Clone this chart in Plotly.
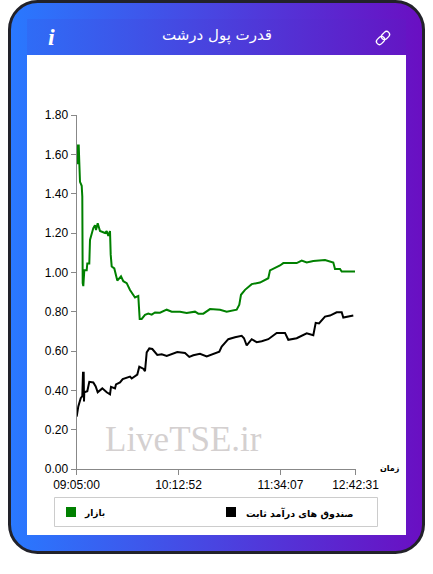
import base64
import plotly.graph_objects as go

W, H = 433, 574

title = "قدرت پول درشت"
x_ticks = [0, 102, 204, 279]
x_labels = ["09:05:00", "10:12:52", "11:34:07", "12:42:31"]
y_ticks = [0, 0.2, 0.4, 0.6, 0.8, 1.0, 1.2, 1.4, 1.6, 1.8]

market_name = "بازار"
market_x = [0.2, 0.8, 1.5, 2.2, 2.8, 3.5, 5.2, 5.8, 6.2, 6.8, 7.8, 10.2, 10.8, 12.8, 13.5, 15.2, 16.8, 18.5,
            19.5, 21.2, 23.5, 28.5, 30.2, 31.8, 33.5, 34.2, 35.2, 37.8, 40.8, 44.5, 46.8, 50.2, 53.5, 58.5,
            61.8, 62.5, 63.2, 65.2, 68.5, 71.8, 75.2, 78.5, 83.5, 90.2, 95.2, 103.5, 110.2, 118.5, 121.8,
            126.8, 133.5, 143.5, 150.2, 160.2, 162.8, 164.5, 168.5, 175.2, 183.5, 191.8, 193.5, 203.5, 206.8,
            220.2, 225.2, 230.2, 236.8, 248.5, 256.8, 258.5, 263.5, 265.2, 278.5]
market_y = [1.56, 1.65, 1.55, 1.65, 1.56, 1.46, 1.44, 1.385, 0.945, 0.93, 1.01, 1.01, 1.045, 1.045, 1.165, 1.2,
            1.225, 1.24, 1.215, 1.25, 1.21, 1.2, 1.21, 1.185, 1.21, 1.09, 1.03, 1.02, 0.958, 0.98, 0.955, 0.945,
            0.91, 0.872, 0.88, 0.82, 0.763, 0.763, 0.784, 0.79, 0.785, 0.796, 0.795, 0.81, 0.80, 0.80, 0.793,
            0.80, 0.79, 0.79, 0.813, 0.81, 0.80, 0.81, 0.835, 0.886, 0.911, 0.94, 0.948, 0.97, 1.01, 1.035, 1.047,
            1.047, 1.06, 1.05, 1.058, 1.063, 1.05, 1.017, 1.017, 1.004, 1.004]

fund_name = "صندوق های درآمد ثابت"
fund_x = [0.2, 1.8, 4.2, 5.8, 6.5, 7.2, 7.5, 7.8, 10.8, 12.8, 16.8, 19.2, 21.2, 25.8, 30.2, 33.5, 34.5, 38.5, 39.5,
          43.5, 46.2, 50.2, 53.5, 55.2, 60.8, 62.8, 66.8, 68.5, 70.2, 72.8, 75.8, 80.8, 85.2, 90.2, 95.2, 100.8,
          108.5, 112.8, 116.8, 123.5, 130.2, 136.8, 142.8, 145.2, 151.8, 158.5, 165.2, 167.5, 170.2, 175.2, 180.2,
          185.2, 191.8, 200.2, 208.5, 211.8, 220.2, 230.2, 236.8, 239.2, 242.5, 248.5, 253.5, 260.2, 265.2, 266.8,
          276.8]
fund_y = [0.267, 0.318, 0.36, 0.37, 0.49, 0.49, 0.343, 0.39, 0.395, 0.443, 0.44, 0.42, 0.39, 0.41, 0.39, 0.38, 0.418,
          0.41, 0.43, 0.44, 0.457, 0.463, 0.47, 0.46, 0.48, 0.52, 0.51, 0.497, 0.593, 0.613, 0.61, 0.58, 0.583, 0.575,
          0.583, 0.595, 0.59, 0.57, 0.578, 0.586, 0.572, 0.586, 0.597, 0.623, 0.66, 0.67, 0.677, 0.665, 0.628, 0.66,
          0.645, 0.65, 0.66, 0.692, 0.692, 0.657, 0.665, 0.69, 0.68, 0.743, 0.74, 0.775, 0.78, 0.797, 0.797, 0.77, 0.78]

svg = f"""<svg xmlns="http://www.w3.org/2000/svg" width="{W}" height="{H}" viewBox="0 0 {W} {H}">
<defs>
<linearGradient id="g" x1="0" y1="0" x2="1" y2="0"><stop offset="0" stop-color="#2979ff"/><stop offset="1" stop-color="#6a0fc2"/></linearGradient>
<linearGradient id="h" x1="0" y1="0" x2="1" y2="0"><stop offset="0" stop-color="#2f6cf6"/><stop offset="1" stop-color="#6416c4"/></linearGradient>
</defs>
<rect x="9.5" y="1.5" width="414" height="551" rx="28" fill="url(#g)" stroke="#22222a" stroke-width="3"/>
<rect x="27" y="19" width="379" height="36" fill="url(#h)"/>
<rect x="27" y="55" width="379" height="480" fill="#fff"/>
<g transform="translate(383 38) rotate(-45)" fill="none" stroke="#fff" stroke-width="1.3">
<rect x="-8" y="-3" width="9" height="6" rx="3"/><rect x="-1" y="-3" width="9" height="6" rx="3"/>
</g>
</svg>"""
bg = "data:image/svg+xml;base64," + base64.b64encode(svg.encode()).decode()

fig = go.Figure()
fig.add_trace(go.Scatter(x=market_x, y=market_y, mode="lines", line=dict(color="#008000", width=2)))
fig.add_trace(go.Scatter(x=fund_x, y=fund_y, mode="lines", line=dict(color="#000000", width=2)))

fig.update_layout(
    width=W, height=H, margin=dict(l=0, r=0, t=0, b=0),
    paper_bgcolor="white", plot_bgcolor="rgba(0,0,0,0)", showlegend=False,
    font=dict(family="Liberation Sans", size=12, color="#000"),
    images=[dict(source=bg, xref="paper", yref="paper", x=0, y=1, sizex=1, sizey=1,
                 xanchor="left", yanchor="top", sizing="stretch", layer="below")],
)
fig.update_xaxes(domain=[76.5 / W, 355.5 / W], range=[0, 279], tickvals=x_ticks, ticktext=x_labels,
                 showgrid=False, zeroline=False, showline=True, linecolor="#888", linewidth=1,
                 ticks="outside", ticklen=5, tickcolor="#888", tickangle=0, automargin=False)
fig.update_yaxes(domain=[1 - 469 / H, 1 - 115 / H], range=[0, 1.8], tickvals=y_ticks, tickformat=".2f",
                 showgrid=False, zeroline=False, showline=True, linecolor="#888", linewidth=1,
                 ticks="outside", ticklen=5, tickcolor="#888", automargin=False)


def label(px, py, text, size, color="#000", family="DejaVu Sans"):
    fig.add_annotation(xref="paper", yref="paper", x=px / W, y=1 - py / H, text=text, showarrow=False,
                       xanchor="center", yanchor="middle",
                       font=dict(size=size, color=color, family=family))


def box(x0, y0, x1, y1, **kw):
    fig.add_shape(type="rect", xref="paper", yref="paper", x0=x0 / W, x1=x1 / W,
                  y0=1 - y0 / H, y1=1 - y1 / H, **kw)


label(217, 35, title, 15, "#fff")
label(51, 37, "<b><i>i</i></b>", 24, "#fff", "Liberation Serif")
label(183, 439, "LiveTSE.ir", 35, "#d4d0d0", "Liberation Serif")
label(390, 468, "<b>زمان</b>", 8)

box(54.5, 497.5, 377.5, 526.5, line=dict(color="#ccc", width=1), fillcolor="rgba(0,0,0,0)")
box(66, 507, 76, 517, line_width=0, fillcolor="#008000")
box(226, 507, 236, 517, line_width=0, fillcolor="#000")
label(94, 513, "<b>" + market_name + "</b>", 9)
label(299, 513, "<b>" + fund_name + "</b>", 9.5)

fig.write_html("out.html", config=dict(displayModeBar=False), post_script="document.body.style.margin='0';")
